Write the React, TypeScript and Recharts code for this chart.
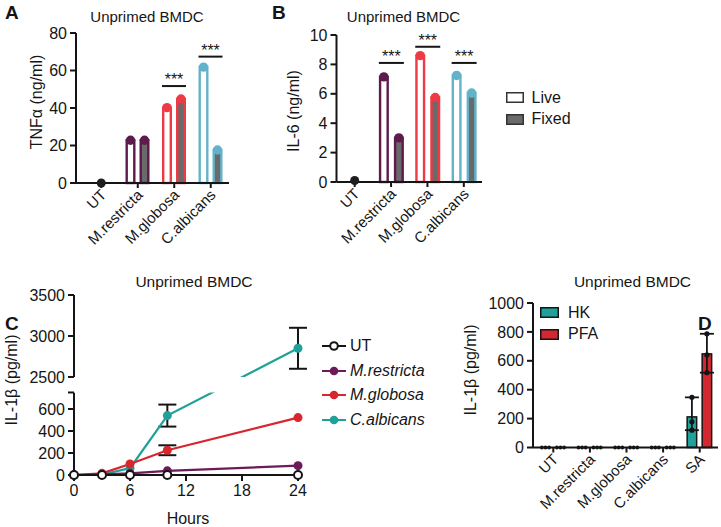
import React from "react";
import {
  Bar,
  ComposedChart,
  ErrorBar,
  Legend,
  Line,
  LineChart,
  ReferenceArea,
  ReferenceLine,
  XAxis,
  YAxis,
} from "recharts";

const FONT = '"Liberation Sans", Arial, Helvetica, sans-serif';
const INK = "#151515";

// panels A / B
const strains = ["UT", "M.restricta", "M.globosa", "C.albicans"];
const strainColors = ["#1e1e1e", "#5c1a4d", "#ee3a44", "#62b3c9"];
const keyLabels = ["Live", "Fixed"];
const keyFills = ["#ffffff", "#6a6a6a"];

const tnfLive = [null, 22.8, 40.2, 61.8];
const tnfFixed = [null, 22.8, 44.8, 17.6];
const tnfUT = [0, null, null, null];
const tnfSig = [null, null, 51.7, 67.4];
const tnfTicks = [0, 20, 40, 60, 80];

const il6Live = [null, 7.15, 8.6, 7.25];
const il6Fixed = [null, 3.0, 5.75, 6.05];
const il6UT = [0.1, null, null, null];
const il6Sig = [null, 8.1, 9.2, 8.1];
const il6Ticks = [0, 2, 4, 6, 8, 10];

// panel C
const hours = [0, 3, 6, 10, 24];
const hourTicks = [0, 6, 12, 18, 24];
const ilUT = [0, 0, 0, 0, 0];
const ilMR = [0, 5, 15, 38, 85];
const ilMG = [0, 15, 100, 225, 522];
const ilCA = [0, 5, 62, 540, 2850];
const ilMGsd = [0, 0, 0, 45, 0];
const ilCAsd = [0, 0, 0, 100, 250];
const ilTicks = [0, 200, 400, 600, 750, 2500, 3000, 3500];
const ilTickLabels = ["0", "200", "400", "600", "", "2500", "3000", "3500"];
const lineNames = ["UT", "M.restricta", "M.globosa", "C.albicans"];
const lineColors = ["#151515", "#6d1a58", "#d8262e", "#1fa199"];

// panel D
const saCats = ["UT", "M.restricta", "M.globosa", "C.albicans", "SA"];
const hkMean = [0, 0, 0, 0, 212];
const pfaMean = [0, 0, 0, 0, 648];
const hkReps = [[0, 0, 0], [0, 0, 0], [0, 0, 0], [0, 0, 0], [347, 178, 120]];
const pfaReps = [[0, 0, 0], [0, 0, 0], [0, 0, 0], [0, 0, 0], [787, 641, 518]];
const saTicks = [0, 200, 400, 600, 800, 1000];
const saLabels = ["HK", "PFA"];
const saColors = ["#20a29a", "#d3282f"];

// broken y axis of C: lower part 0-750, upper part 2500-3500 squeezed
const LOW_TOP = 750;
const HIGH_BOTTOM = 2500;
const BREAK_GAP = 141;
const HIGH_SQUEEZE = 0.745;
const brk = (v: number) =>
  v <= LOW_TOP ? v : LOW_TOP + BREAK_GAP + (v - HIGH_BOTTOM) * HIGH_SQUEEZE;
const errPair = (v: number, sd: number) =>
  sd ? [brk(v) - brk(v - sd), brk(v + sd) - brk(v)] : null;
const ilTickText = new Map(ilTicks.map((t, i) => [brk(t), ilTickLabels[i]]));

const tnfRows = strains.map((name, i) => ({
  name,
  color: strainColors[i],
  live: tnfLive[i],
  fixed: tnfFixed[i],
  ut: tnfUT[i],
  sig: tnfSig[i],
}));

const il6Rows = strains.map((name, i) => ({
  name,
  color: strainColors[i],
  live: il6Live[i],
  fixed: il6Fixed[i],
  ut: il6UT[i],
  sig: il6Sig[i],
}));

const ilRows = hours.map((h, i) => ({
  h,
  ut: brk(ilUT[i]),
  mr: brk(ilMR[i]),
  mg: brk(ilMG[i]),
  ca: brk(ilCA[i]),
  mgErr: errPair(ilMG[i], ilMGsd[i]),
  caErr: errPair(ilCA[i], ilCAsd[i]),
}));

const spread = (reps: number[], m: number) => {
  const lo = Math.min(...reps);
  const hi = Math.max(...reps);
  return hi === lo ? null : [m - lo, hi - m];
};

const saRows = saCats.map((name, i) => ({
  name,
  hk: hkMean[i],
  pfa: pfaMean[i],
  hkReps: hkReps[i],
  pfaReps: pfaReps[i],
  hkErr: spread(hkReps[i], hkMean[i]),
  pfaErr: spread(pfaReps[i], pfaMean[i]),
}));

const tickStyle = { fill: INK, fontSize: 16, fontFamily: FONT };
const axisStroke = { stroke: INK, strokeWidth: 2 };

function SlantTick(props: any) {
  const { x, y, payload } = props;
  return (
    <text
      x={0}
      y={0}
      transform={`translate(${x + 2},${y + 2}) rotate(-45)`}
      textAnchor="end"
      dominantBaseline="central"
      fontSize={15}
      fontFamily={FONT}
      fill={INK}
    >
      {payload.value}
    </text>
  );
}

function PairBar(props: any) {
  const { x, y, width, height, payload, kind, gap } = props;
  const v = payload[kind];
  if (v == null || !isFinite(x) || !isFinite(y)) return null;
  const sw = 2.4;
  const col = payload.color;
  const base = y + height;
  let sig = null;
  if (kind === "fixed" && payload.sig != null && v > 0) {
    const sy = base - (payload.sig * height) / v;
    const x0 = x - width - gap;
    const x1 = x + width;
    sig = (
      <g>
        <line x1={x0} x2={x1} y1={sy} y2={sy} stroke={INK} strokeWidth={2} />
        <text
          x={(x0 + x1) / 2}
          y={sy - 1}
          textAnchor="middle"
          fontSize={16}
          fontFamily={FONT}
          fill={INK}
        >
          ***
        </text>
      </g>
    );
  }
  return (
    <g>
      <rect
        x={x + sw / 2}
        y={y}
        width={width - sw}
        height={Math.max(0, height)}
        fill={kind === "live" ? keyFills[0] : keyFills[1]}
        stroke={col}
        strokeWidth={sw}
      />
      <circle cx={x + width / 2} cy={y} r={width / 2 - 0.3} fill={col} />
      {sig}
    </g>
  );
}

function DotBar(props: any) {
  const { x, y, width, height, payload, meanKey, repKey, color } = props;
  if (!isFinite(x) || !isFinite(y)) return null;
  const m = payload[meanKey];
  const reps: number[] = payload[repKey];
  const base = y + height;
  const k = m > 0 ? height / m : 0;
  const same = reps.every((v) => v === reps[0]);
  return (
    <g>
      {height > 0.5 && (
        <rect
          x={x + 0.75}
          y={y}
          width={width - 1.5}
          height={height}
          fill={color}
          stroke={INK}
          strokeWidth={1.5}
        />
      )}
      {reps.map((v, i) => (
        <circle
          key={i}
          cx={x + width / 2 + (same ? (i - 1) * 3.6 : 0)}
          cy={base - v * k}
          r={same ? 1.9 : 2.6}
          fill={INK}
        />
      ))}
    </g>
  );
}

function LiveFixedKey() {
  return (
    <div style={{ fontFamily: FONT, fontSize: 16, color: INK }}>
      {keyLabels.map((label, i) => (
        <div key={label} style={{ display: "flex", alignItems: "center", height: 21.5 }}>
          <svg width={18} height={11}>
            <rect x={0.75} y={0.75} width={16.5} height={9.5} fill={keyFills[i]} stroke="#333" strokeWidth={1.5} />
          </svg>
          <span style={{ marginLeft: 7.5 }}>{label}</span>
        </div>
      ))}
    </div>
  );
}

function TimeKey() {
  return (
    <div style={{ fontFamily: FONT, fontSize: 16, color: INK }}>
      {lineNames.map((label, i) => (
        <div key={label} style={{ display: "flex", alignItems: "center", height: 24.6 }}>
          <svg width={24} height={12}>
            <line x1={0} x2={24} y1={6} y2={6} stroke={lineColors[i]} strokeWidth={2} />
            <circle
              cx={12}
              cy={6}
              r={i === 0 ? 3.8 : 4.3}
              fill={i === 0 ? "#fff" : lineColors[i]}
              stroke={lineColors[i]}
              strokeWidth={i === 0 ? 2 : 0}
            />
          </svg>
          <span style={{ marginLeft: 4, fontStyle: i === 0 ? "normal" : "italic" }}>{label}</span>
        </div>
      ))}
    </div>
  );
}

function SaKey() {
  return (
    <div style={{ fontFamily: FONT, fontSize: 16, color: INK }}>
      {saLabels.map((label, i) => (
        <div key={label} style={{ display: "flex", alignItems: "center", height: 21.5 }}>
          <svg width={19} height={11}>
            <rect x={0.75} y={0.75} width={17.5} height={9.5} fill={saColors[i]} stroke={INK} strokeWidth={1.5} />
          </svg>
          <span style={{ marginLeft: 9 }}>{label}</span>
        </div>
      ))}
    </div>
  );
}

function PanelText({ letter, lx, ly, title, tx, ty, size }: any) {
  return (
    <g fontFamily={FONT} fill={INK}>
      <text x={lx} y={ly} fontSize={19} fontWeight="bold">
        {letter}
      </text>
      <text x={tx} y={ty} fontSize={size ?? 15} textAnchor="middle">
        {title}
      </text>
    </g>
  );
}

function YTitle({ x, y, children }: any) {
  return (
    <text
      transform={`translate(${x},${y}) rotate(-90)`}
      textAnchor="middle"
      dominantBaseline="central"
      fontSize={16}
      fontFamily={FONT}
      fill={INK}
    >
      {children}
    </text>
  );
}

function TnfChart() {
  return (
    <ComposedChart
      width={240}
      height={260}
      data={tnfRows}
      margin={{ top: 33, right: 11, bottom: 7, left: 26 }}
      barSize={10}
      barGap={4}
    >
      <XAxis
        dataKey="name"
        interval={0}
        height={70}
        padding={{ left: 7, right: 0 }}
        axisLine={axisStroke}
        tickLine={axisStroke}
        tickSize={5}
        tickMargin={2}
        tick={<SlantTick />}
      />
      <YAxis
        width={50}
        domain={[0, 80]}
        ticks={tnfTicks}
        interval={0}
        axisLine={axisStroke}
        tickLine={axisStroke}
        tickSize={6}
        tickMargin={3}
        tick={tickStyle}
      />
      <Bar dataKey="live" isAnimationActive={false} shape={(p: any) => <PairBar {...p} kind="live" gap={4} />} />
      <Bar dataKey="fixed" isAnimationActive={false} shape={(p: any) => <PairBar {...p} kind="fixed" gap={4} />} />
      <Line
        dataKey="ut"
        stroke="none"
        dot={{ r: 4.5, fill: strainColors[0], stroke: "none" }}
        activeDot={false}
        isAnimationActive={false}
      />
      <PanelText letter="A" lx={5} ly={19} title="Unprimed BMDC" tx={147} ty={22} />
      <YTitle x={36} y={102}>TNFα (ng/ml)</YTitle>
    </ComposedChart>
  );
}

function Il6Chart() {
  return (
    <ComposedChart
      width={360}
      height={260}
      data={il6Rows}
      margin={{ top: 35, right: 118, bottom: 8, left: 46.5 }}
      barSize={10}
      barGap={5}
    >
      <XAxis
        dataKey="name"
        interval={0}
        height={70}
        padding={{ left: 0, right: 0 }}
        axisLine={axisStroke}
        tickLine={axisStroke}
        tickSize={5}
        tickMargin={2}
        tick={<SlantTick />}
      />
      <YAxis
        width={50}
        domain={[0, 10]}
        ticks={il6Ticks}
        interval={0}
        axisLine={axisStroke}
        tickLine={axisStroke}
        tickSize={6}
        tickMargin={3}
        tick={tickStyle}
      />
      <Bar dataKey="live" isAnimationActive={false} shape={(p: any) => <PairBar {...p} kind="live" gap={5} />} />
      <Bar dataKey="fixed" isAnimationActive={false} shape={(p: any) => <PairBar {...p} kind="fixed" gap={5} />} />
      <Line
        dataKey="ut"
        stroke="none"
        dot={{ r: 4.5, fill: strainColors[0], stroke: "none" }}
        activeDot={false}
        isAnimationActive={false}
      />
      <Legend
        layout="vertical"
        align="center"
        verticalAlign="middle"
        content={<LiveFixedKey />}
        wrapperStyle={{ left: 266, top: 87, width: "auto" }}
      />
      <PanelText letter="B" lx={32} ly={19} title="Unprimed BMDC" tx={163.5} ty={22} />
      <YTitle x={53.5} y={111}>IL-6 (ng/ml)</YTitle>
    </ComposedChart>
  );
}

function TimeChart() {
  return (
    <LineChart
      width={470}
      height={259}
      data={ilRows}
      margin={{ top: 27, right: 172, bottom: 22, left: 22 }}
    >
      <XAxis
        dataKey="h"
        type="number"
        domain={[0, 24]}
        ticks={hourTicks}
        interval={0}
        height={30}
        axisLine={axisStroke}
        tickLine={axisStroke}
        tickSize={6}
        tickMargin={4}
        tick={tickStyle}
      />
      <YAxis
        width={52}
        type="number"
        domain={[0, brk(3500)]}
        ticks={ilTicks.map(brk)}
        interval={0}
        tickFormatter={(v: number) => ilTickText.get(v) ?? ""}
        axisLine={false}
        tickLine={axisStroke}
        tickSize={6}
        tickMargin={3}
        tick={tickStyle}
      />
      <Line dataKey="ca" stroke={lineColors[3]} strokeWidth={2.2} dot={{ r: 4.5, fill: lineColors[3], stroke: "none" }} activeDot={false} isAnimationActive={false}>
        <ErrorBar dataKey="caErr" width={9} stroke={INK} strokeWidth={2} direction="y" />
      </Line>
      <Line dataKey="mg" stroke={lineColors[2]} strokeWidth={2.2} dot={{ r: 4.5, fill: lineColors[2], stroke: "none" }} activeDot={false} isAnimationActive={false}>
        <ErrorBar dataKey="mgErr" width={9} stroke={INK} strokeWidth={2} direction="y" />
      </Line>
      <Line dataKey="mr" stroke={lineColors[1]} strokeWidth={2.2} dot={{ r: 4.5, fill: lineColors[1], stroke: "none" }} activeDot={false} isAnimationActive={false} />
      <Line dataKey="ut" stroke={lineColors[0]} strokeWidth={2.2} dot={{ r: 4, fill: "#fff", stroke: lineColors[0], strokeWidth: 2 }} activeDot={false} isAnimationActive={false} />
      <ReferenceArea y1={LOW_TOP} y2={brk(HIGH_BOTTOM)} fill="#fff" fillOpacity={1} stroke="none" zIndex={450} />
      <ReferenceLine segment={[{ x: 0, y: 0 }, { x: 0, y: LOW_TOP }]} stroke={INK} strokeWidth={2} />
      <ReferenceLine segment={[{ x: 0, y: brk(HIGH_BOTTOM) }, { x: 0, y: brk(3500) }]} stroke={INK} strokeWidth={2} />
      <Legend
        layout="vertical"
        align="center"
        verticalAlign="middle"
        content={<TimeKey />}
        wrapperStyle={{ left: 322, top: 66, width: "auto" }}
      />
      <PanelText letter="C" lx={5} ly={62} title="Unprimed BMDC" tx={194} ty={19} size={15.5} />
      <YTitle x={11} y={112}>IL-1β (pg/ml)</YTitle>
      <text x={188} y={256} textAnchor="middle" fontSize={16} fontFamily={FONT} fill={INK}>
        Hours
      </text>
    </LineChart>
  );
}

function SaChart() {
  return (
    <ComposedChart
      width={261}
      height={259}
      data={saRows}
      margin={{ top: 35, right: 3, bottom: 9.5, left: 25 }}
      barSize={11}
      barGap={4}
    >
      <XAxis
        dataKey="name"
        interval={0}
        height={70}
        padding={{ left: 2, right: 0 }}
        axisLine={axisStroke}
        tickLine={axisStroke}
        tickSize={5}
        tickMargin={2}
        tick={<SlantTick />}
      />
      <YAxis
        width={48}
        domain={[0, 1000]}
        ticks={saTicks}
        interval={0}
        axisLine={axisStroke}
        tickLine={axisStroke}
        tickSize={6}
        tickMargin={3}
        tick={tickStyle}
      />
      <Bar
        dataKey="hk"
        isAnimationActive={false}
        shape={(p: any) => <DotBar {...p} meanKey="hk" repKey="hkReps" color={saColors[0]} />}
      >
        <ErrorBar dataKey="hkErr" width={7} stroke={INK} strokeWidth={1.8} direction="y" />
      </Bar>
      <Bar
        dataKey="pfa"
        isAnimationActive={false}
        shape={(p: any) => <DotBar {...p} meanKey="pfa" repKey="pfaReps" color={saColors[1]} />}
      >
        <ErrorBar dataKey="pfaErr" width={7} stroke={INK} strokeWidth={1.8} direction="y" />
      </Bar>
      <Legend
        layout="vertical"
        align="center"
        verticalAlign="middle"
        content={<SaKey />}
        wrapperStyle={{ left: 80, top: 34, width: "auto" }}
      />
      <PanelText letter="D" lx={238} ly={62} title="Unprimed BMDC" tx={172.5} ty={19} size={15.5} />
      <YTitle x={10} y={102}>IL-1β (pg/ml)</YTitle>
    </ComposedChart>
  );
}

export default function App() {
  return (
    <div
      style={{
        position: "absolute",
        left: 0,
        top: 0,
        width: 721,
        height: 527,
        background: "#fff",
        overflow: "hidden",
        fontFamily: FONT,
      }}
    >
      <div style={{ position: "absolute", left: 0, top: 0 }}>
        <TnfChart />
      </div>
      <div style={{ position: "absolute", left: 240, top: 0 }}>
        <Il6Chart />
      </div>
      <div style={{ position: "absolute", left: 0, top: 268 }}>
        <TimeChart />
      </div>
      <div style={{ position: "absolute", left: 460, top: 268 }}>
        <SaChart />
      </div>
    </div>
  );
}
